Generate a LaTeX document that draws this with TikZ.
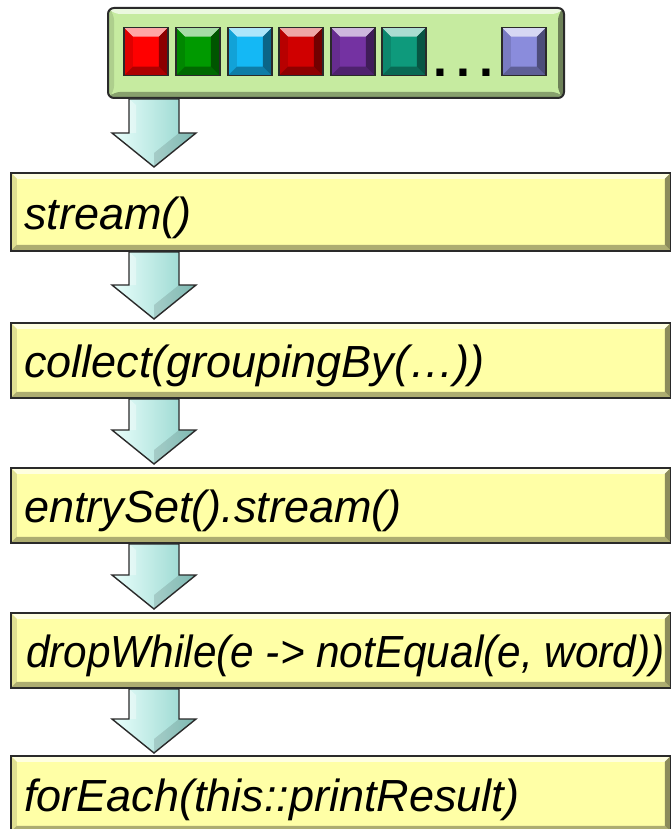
\documentclass[tikz,border=0pt]{standalone}
\usepackage{fontspec}
\setmainfont{Liberation Sans}
\usetikzlibrary{calc}
\definecolor{ybase}{HTML}{FFFFA6}
\definecolor{gbase}{HTML}{C6EBA0}
\definecolor{sqred}{HTML}{FF0000}
\definecolor{sqgreen}{HTML}{009A00}
\definecolor{sqblue}{HTML}{14B8F5}
\definecolor{sqdred}{HTML}{D00000}
\definecolor{sqpurple}{HTML}{7432A2}
\definecolor{sqteal}{HTML}{0E9A7C}
\definecolor{sqlav}{HTML}{8A8CDC}
\definecolor{arrL}{HTML}{EAFFFC}
\definecolor{arrR}{HTML}{8FD3CB}
\definecolor{edge}{HTML}{2A2A2A}
\tikzset{
  bevel/.style 2 args={
    fill=#1,
    path picture={
      \coordinate (pnw) at (path picture bounding box.north west);
      \coordinate (pne) at (path picture bounding box.north east);
      \coordinate (psw) at (path picture bounding box.south west);
      \coordinate (pse) at (path picture bounding box.south east);
      \fill[#1!35!white] (pnw) -- (pne) -- ([xshift=-#2,yshift=-#2]pne) -- ([xshift=#2,yshift=-#2]pnw) -- cycle;
      \fill[#1!88!black] (pnw) -- ([xshift=#2,yshift=-#2]pnw) -- ([xshift=#2,yshift=#2]psw) -- (psw) -- cycle;
      \fill[#1!68!black] (psw) -- (pse) -- ([xshift=-#2,yshift=#2]pse) -- ([xshift=#2,yshift=#2]psw) -- cycle;
      \fill[#1!55!black] (pne) -- (pse) -- ([xshift=-#2,yshift=#2]pse) -- ([xshift=-#2,yshift=-#2]pne) -- cycle;
    }
  },
  ybox/.style={bevel={ybase}{6pt}, draw=edge, line width=1.6pt, anchor=north west,
    minimum width=660pt, inner sep=0pt},
  sq/.style={bevel={#1}{9pt}, draw=edge, line width=1.5pt, anchor=north west,
    minimum width=44pt, minimum height=48pt, inner sep=0pt},
  codetxt/.style={anchor=base west, inner sep=0pt,
    font=\itshape\fontsize{45}{50}\selectfont},
}
\newcommand\fatarrow[3]{%
  \begin{scope}[shift={(#1,#2)}]
    \shade[left color=arrL, right color=arrR]
      (-25,0) -- (25,0) -- (25,{#3-34}) -- (42,{#3-34}) -- (0,#3) -- (-42,{#3-34}) -- (-25,{#3-34}) -- cycle;
    \fill[black, opacity=0.12] (0,#3) -- (42,{#3-34}) -- (25,{#3-34}) -- (0,{#3-14}) -- cycle;
    \fill[white, opacity=0.35] (-25,0) -- (-18,6) -- (-18,{#3-34}) -- (-25,{#3-34}) -- cycle;
    \draw[edge, line width=1.4pt, line join=miter]
      (-25,0) -- (25,0) -- (25,{#3-34}) -- (42,{#3-34}) -- (0,#3) -- (-42,{#3-34}) -- (-25,{#3-34}) -- cycle;
  \end{scope}}
\begin{document}
\begin{tikzpicture}[x=1pt, y=-1pt]
\useasboundingbox (0,0) rectangle (671,829);
% top container
\node[bevel={gbase}{6pt}, draw=edge, line width=2pt, rounded corners=6pt,
  anchor=north west, minimum width=456pt, minimum height=90pt, inner sep=0pt] (top) at (107,7) {};
\node[sq=sqred]    (q1) at (123,27) {};
\node[sq=sqgreen]  (q2) at (175,27) {};
\node[sq=sqblue]   (q3) at (227,27) {};
\node[sq=sqdred]   (q4) at (278,27) {};
\node[sq=sqpurple] (q5) at (330,27) {};
\node[sq=sqteal]   (q6) at (381,27) {};
\node[sq=sqlav]    (q7) at (501,27) {};
\node[anchor=base west, inner sep=0pt, font=\bfseries\fontsize{50}{50}\selectfont] (dots) at (433,77) {.\hspace{9pt}.\hspace{9pt}.};
% operation boxes
\node[ybox, minimum height=78pt] (b1) at (10,172) {};
\node[ybox, minimum height=75pt] (b2) at (10,322) {};
\node[ybox, minimum height=75pt] (b3) at (10,467) {};
\node[ybox, minimum height=75pt] (b4) at (10,612) {};
\node[ybox, minimum height=76pt] (b5) at (10,755) {};
\node[codetxt] (t1) at ([xshift=14pt,yshift=22pt]b1.south west) {stream()};
\node[codetxt] (t2) at ([xshift=14pt,yshift=21pt]b2.south west) {collect(groupingBy(…))};
\node[codetxt] (t3) at ([xshift=14pt,yshift=21pt]b3.south west) {entrySet().stream()};
\node[codetxt] (t4) at ([xshift=16pt,yshift=21pt]b4.south west) {\scalebox{0.94}[1]{dropWhile(e -> notEqual(e, word))}};
\node[codetxt] (t5) at ([xshift=14pt,yshift=21pt]b5.south west) {forEach(this::printResult)};
% arrows
\fatarrow{154}{99}{68}
\fatarrow{154}{252}{67}
\fatarrow{154}{399}{65}
\fatarrow{154}{544}{65}
\fatarrow{154}{689}{64}
\end{tikzpicture}
\end{document}
